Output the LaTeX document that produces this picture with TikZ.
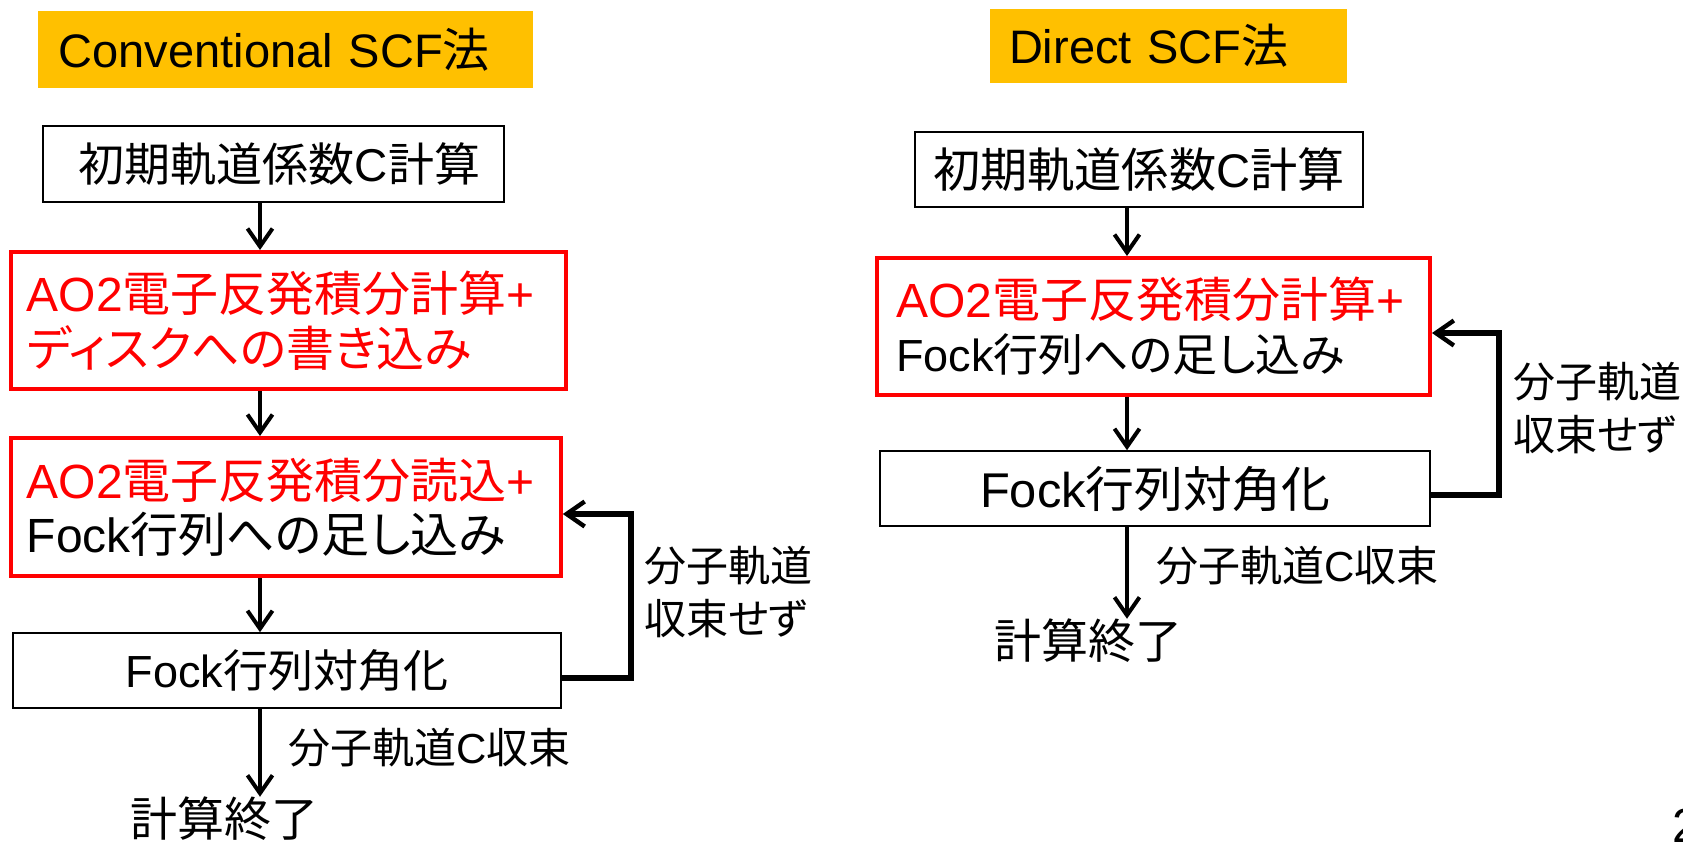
\documentclass[tikz,border=0pt]{standalone}
\usepackage{fontspec}
\setmainfont{Liberation Sans}
\newfontfamily\jpfont{Noto Sans CJK JP}[RawFeature=+palt]
\usetikzlibrary{arrows.meta}
\newcommand\jj[1]{{\jpfont #1}}
\newcommand\fs[2]{\fontsize{#1}{#2}\selectfont}
\definecolor{ttlorange}{HTML}{FFC000}
\definecolor{boxred}{HTML}{FF0000}
\tikzset{
  ttl/.style={fill=ttlorange, align=left, inner ysep=0pt, font=\fs{23.5pt}{28pt}},
  plainbox/.style={draw=black, line width=0.8pt, inner sep=0pt},
  redbox/.style={draw=boxred, line width=2pt, inner ysep=0pt, align=left},
  arr/.style={line width=2pt, -{Straight Barb[length=9pt,width=12.5pt,line width=2pt]}},
  looparr/.style={line width=2.8pt, -{Straight Barb[length=9pt,width=12.5pt,line width=2.2pt]}},
  lbl/.style={inner sep=0pt, anchor=west, align=left}
}
\begin{document}
\begin{tikzpicture}[x=0.5pt,y=-0.5pt]
\useasboundingbox (0,0) rectangle (1683,842);
% ---------- left: conventional ----------
\node[ttl, text width=226.5pt, inner xsep=10.5pt, minimum height=38.5pt] (ttlL) at (285.3,49.3) {Conventional SCF\jj{法}};
\node[plainbox, minimum width=230.5pt, minimum height=38pt, font=\fs{23pt}{28pt}] (initL) at (273.5,164) {\hspace{6pt}\jj{初期軌道係数}C\jj{計算}};
\node[redbox, text width=261.5pt, inner xsep=8pt, minimum height=68.5pt, font=\fs{24pt}{27.5pt}, text=boxred] (intL) at (288.3,320.5)
  {AO2\jj{電子反発積分計算}+\\\jj{ディスクへの書き込み}};
\node[redbox, text width=259pt, inner xsep=8pt, minimum height=69pt, font=\fs{24pt}{27pt}] (readL) at (285.8,507)
  {\textcolor{boxred}{AO2\jj{電子反発積分読込}+}\\Fock\jj{行列への足し込み}};
\node[plainbox, minimum width=274pt, minimum height=37.5pt, font=\fs{22.5pt}{27pt}] (diagL) at (287,670.5) {Fock\jj{行列対角化}};
\node[inner sep=0pt, font=\fs{23.5pt}{28pt}] (endL) at (224,819) {\jj{計算終了}};
\node[lbl, font=\fs{21pt}{26.5pt}] (convL) at (288,748) {\jj{分子軌道}C\jj{収束}};
\node[lbl, font=\fs{21pt}{26.5pt}] (nconvL) at (644,592) {\jj{分子軌道}\\\jj{収束せず}};
\coordinate (axL) at (260,0);
\coordinate (loopLb) at (631,678);
\coordinate (loopLt) at (631,514);
\draw[arr] (initL.south -| axL) -- (intL.north -| axL);
\draw[arr] (intL.south -| axL) -- (readL.north -| axL);
\draw[arr] (readL.south -| axL) -- (diagL.north -| axL);
\draw[arr] (diagL.south -| axL) -- (endL.north -| axL);
\draw[looparr] (diagL.east |- loopLb) -- (loopLb) -- (loopLt) -- (readL.east |- loopLt);
% ---------- right: direct ----------
\node[ttl, text width=159.5pt, inner xsep=9.5pt, minimum height=37.2pt] (ttlR) at (1168.5,45.8) {Direct SCF\jj{法}};
\node[plainbox, minimum width=224pt, minimum height=37.5pt, font=\fs{23.6pt}{28pt}] (initR) at (1139,169.5) {\jj{初期軌道係数}C\jj{計算}};
\node[redbox, text width=257.5pt, inner xsep=9.5pt, minimum height=68.5pt, font=\fs{24pt}{27pt}] (intR) at (1153.5,326.5)
  {\textcolor{boxred}{AO2\jj{電子反発積分計算}+}\\{\fs{22.5pt}{27pt}Fock\jj{行列への足し込み}}};
\node[plainbox, minimum width=275pt, minimum height=37.5pt, font=\fs{24.4pt}{28pt}] (diagR) at (1155,488.5) {Fock\jj{行列対角化}};
\node[inner sep=0pt, font=\fs{23.5pt}{28pt}] (endR) at (1088,641) {\jj{計算終了}};
\node[lbl, font=\fs{21pt}{26.5pt}] (convR) at (1156,566) {\jj{分子軌道}C\jj{収束}};
\node[lbl, font=\fs{21pt}{26.5pt}] (nconvR) at (1513,408) {\jj{分子軌道}\\\jj{収束せず}};
\node[lbl, font=\fs{24pt}{28pt}] (page) at (1672,826) {2};
\coordinate (axR) at (1127,0);
\coordinate (loopRb) at (1499,495);
\coordinate (loopRt) at (1499,333);
\draw[arr] (initR.south -| axR) -- (intR.north -| axR);
\draw[arr] (intR.south -| axR) -- (diagR.north -| axR);
\draw[arr] (diagR.south -| axR) -- (endR.north -| axR);
\draw[looparr] (diagR.east |- loopRb) -- (loopRb) -- (loopRt) -- (intR.east |- loopRt);
\end{tikzpicture}
\end{document}
